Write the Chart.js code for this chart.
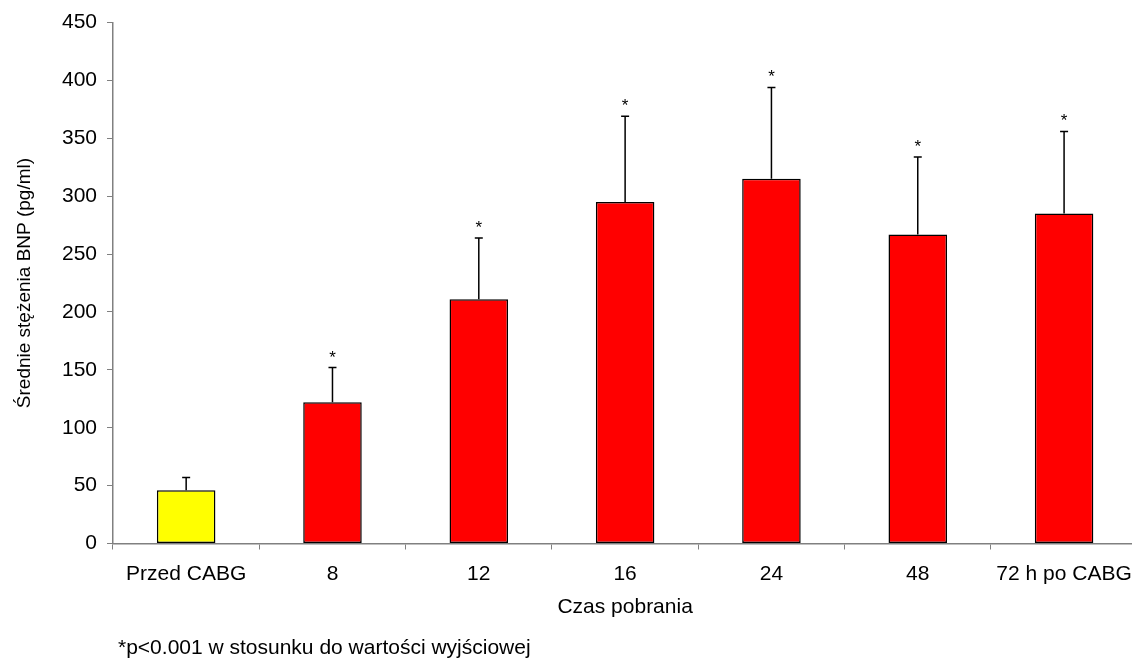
<!DOCTYPE html>
<html>
<head>
<meta charset="utf-8">
<script src="https://cdn.jsdelivr.net/npm/chart.js@4"></script>
<style>
  html, body { margin: 0; padding: 0; background: #fff; overflow: hidden; }
</style>
</head>
<body>
<canvas id="bnpChart" width="1144" height="658"></canvas>
<script>
// czas pobrania próbki
const categories = ["Przed CABG", "8", "12", "16", "24", "48", "72 h po CABG"];
// średnie stężenie BNP (pg/ml)
const means = [46, 122, 211, 295, 315, 267, 285];
// odchylenie (górne ramię słupka błędu)
const errors = [11, 30, 53, 74, 79, 67, 71];
// istotność względem wartości wyjściowej
const significant = [false, true, true, true, true, true, true];
const barColors = ["#ffff00", "#ff0000", "#ff0000", "#ff0000", "#ff0000", "#ff0000", "#ff0000"];

const yMin = 0;
const yMax = 450;
const yStep = 50;

const FONT = "'Liberation Sans', Arial, sans-serif";
const axisGrey = "#808080";

// słupki błędów + gwiazdki nad nimi
const errorBars = {
  id: "errorBars",
  afterDatasetsDraw(chart) {
    const ctx = chart.ctx;
    const y = chart.scales.y;
    const meta = chart.getDatasetMeta(0);
    meta.data.forEach((bar, i) => {
      const top = y.getPixelForValue(means[i] + errors[i]);
      ctx.save();
      ctx.strokeStyle = "#000";
      ctx.lineWidth = 1.5;
      ctx.beginPath();
      ctx.moveTo(bar.x, bar.y);
      ctx.lineTo(bar.x, top);
      ctx.moveTo(bar.x - 4, top);
      ctx.lineTo(bar.x + 4, top);
      ctx.stroke();
      if (significant[i]) {
        ctx.fillStyle = "#000";
        ctx.font = "17px " + FONT;
        ctx.textAlign = "center";
        ctx.textBaseline = "alphabetic";
        ctx.fillText("*", bar.x, top - 5);
      }
      ctx.restore();
    });
  }
};

// przypis pod wykresem
const footnote = {
  id: "footnote",
  afterDraw(chart) {
    const ctx = chart.ctx;
    ctx.save();
    ctx.fillStyle = "#000";
    ctx.font = "21px " + FONT;
    ctx.textAlign = "left";
    ctx.textBaseline = "alphabetic";
    ctx.fillText("*p<0.001 w stosunku do wartości wyjściowej", 118, 654);
    ctx.restore();
  }
};

new Chart(document.getElementById("bnpChart").getContext("2d"), {
  type: "bar",
  data: {
    labels: categories,
    datasets: [{
      data: means,
      backgroundColor: barColors,
      borderColor: "#000",
      borderWidth: 1.5,
      borderSkipped: false,
      barPercentage: 0.4,
      categoryPercentage: 1.0
    }]
  },
  options: {
    responsive: false,
    animation: false,
    layout: { padding: { top: 20, right: 3, bottom: 0, left: 0 } },
    plugins: {
      legend: { display: false },
      tooltip: { enabled: false }
    },
    scales: {
      x: {
        grid: { drawOnChartArea: false, drawTicks: true, tickLength: 6, color: axisGrey, lineWidth: 1 },
        border: { display: true, color: axisGrey, width: 1.5 },
        ticks: { color: "#000", font: { family: FONT, size: 21 }, padding: 12, maxRotation: 0, autoSkip: false },
        title: { display: true, text: "Czas pobrania", color: "#000", font: { family: FONT, size: 21 }, padding: { top: 0, bottom: 38 } },
        afterFit(scale) { scale.height = 114.5; }
      },
      y: {
        min: yMin,
        max: yMax,
        grid: { drawOnChartArea: false, drawTicks: true, tickLength: 6, color: axisGrey, lineWidth: 1 },
        border: { display: true, color: axisGrey, width: 1.5 },
        ticks: { stepSize: yStep, color: "#000", font: { family: FONT, size: 21 }, padding: 10 },
        title: { display: true, text: "Średnie stężenia BNP (pg/ml)", color: "#000", font: { family: FONT, size: 19 }, padding: { top: 13, bottom: 0 } },
        afterFit(scale) { scale.width = 113; }
      }
    }
  },
  plugins: [errorBars, footnote]
});
</script>
</body>
</html>
